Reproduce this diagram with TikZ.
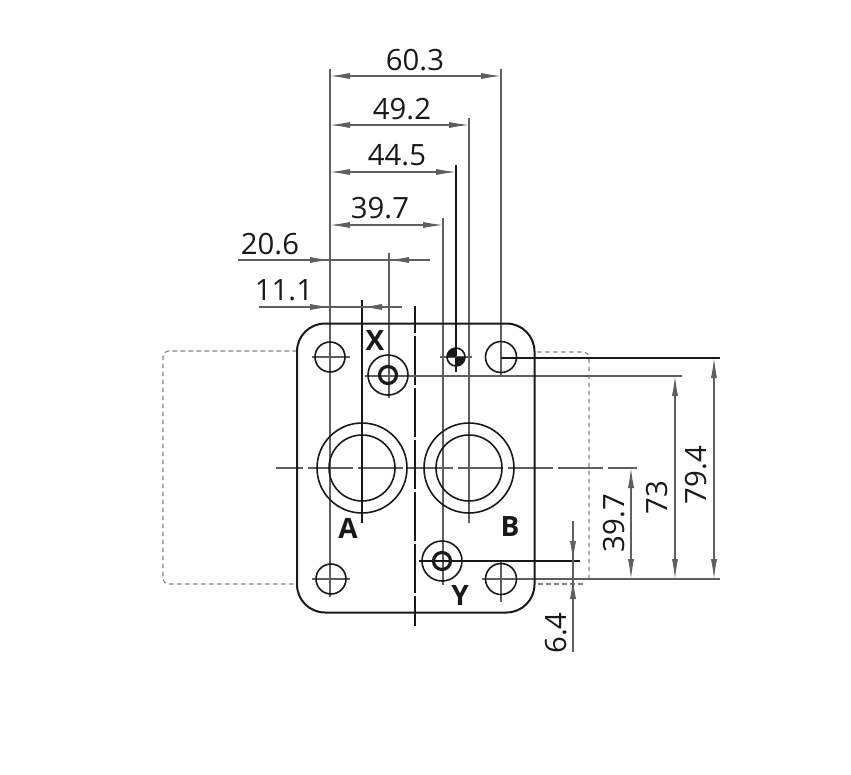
\documentclass[tikz,border=0pt]{standalone}
\usepackage{fontspec}
\setmainfont{Open Sans}
\usetikzlibrary{arrows.meta}
\definecolor{inkdark}{RGB}{25,25,25}
\definecolor{inkthin}{RGB}{95,95,95}
\definecolor{inkdash}{RGB}{130,130,130}
\tikzset{
    plate/.style={draw=inkdark,line width=1.5pt},
    thinline/.style={draw=inkthin,line width=0.8pt},
    hiddenline/.style={draw=inkdash,line width=0.8pt,dash pattern=on 3.5pt off 2.5pt},
    dimline/.style={thinline,{Latex[length=15pt,width=4.6pt]}-{Latex[length=15pt,width=4.6pt]}},
    dimtip/.style={thinline,-{Latex[length=15pt,width=4.6pt]}},
    dimtext/.style={font=\fontsize{22}{22}\selectfont,text=inkdark,inner sep=0pt},
    porttext/.style={font=\fontsize{21}{21}\selectfont\bfseries,text=inkdark,inner sep=0pt}
}
\begin{document}
\begin{tikzpicture}[x=0.75pt,y=-0.75pt]
    \useasboundingbox (0,0) rectangle (851,775);

    % Hidden outline behind the plate
    \draw[hiddenline,rounded corners=4pt] (297,351) -- (163,351) -- (163,584) -- (297,584);
    \draw[hiddenline,rounded corners=4pt] (537,352) -- (589,352) -- (589,578);
    \draw[hiddenline,rounded corners=4pt] (538,584) -- (585,584);

    % Centre lines
    \draw[thinline,dash pattern=on 33.75pt off 3.75pt,dash phase=13.5pt] (276,468) -- (637,468);
    \draw[draw=inkdark,line width=0.8pt,dash pattern=on 36.75pt off 2.25pt,dash phase=16.5pt] (415,306) -- (415,626);

    % Extension lines
    \draw[thinline] (330,69) -- (330,597);
    \draw[thinline] (501,69) -- (501,377);
    \draw[thinline] (469,118) -- (469,523);
    \draw[draw=inkdark,line width=0.8pt] (456,165) -- (456,372);
    \draw[thinline] (443,218) -- (443,585);
    \draw[thinline] (389,253) -- (389,398);
    \draw[draw=inkdark,line width=0.8pt] (362,300) -- (362,523);
    \draw[thinline] (501,562) -- (501,602);
    \draw[draw=inkdark,line width=0.8pt] (501,358) -- (720,358);
    \draw[thinline] (365,376) -- (682,376);
    \draw[thinline] (482,579) -- (720,579);
    \draw[draw=inkdark,line width=0.8pt] (419,561) -- (580,561);
    \draw[thinline] (312,357) -- (350,357);
    \draw[thinline] (440,357) -- (472,357);
    \draw[thinline] (312,579) -- (350,579);

    % Plate
    \draw[plate,rounded corners=21pt] (297,323.5) rectangle (534.5,612.5);

    % Ports and holes
    \draw[plate,line width=1.2pt] (330,357) circle (15);
    \draw[plate,line width=1.2pt] (501,357) circle (15.5);
    \draw[plate,line width=1.2pt] (331,579) circle (15);
    \draw[plate,line width=1.2pt] (501,579) circle (15.5);
    \draw[plate,line width=1.2pt] (362,468) circle (45);
    \draw[plate,line width=1.2pt] (362,468) circle (33);
    \draw[plate,line width=1.2pt] (469,468) circle (45);
    \draw[plate,line width=1.2pt] (469,468) circle (33);
    \draw[plate,line width=1.2pt] (388,375) circle (20);
    \draw[plate,line width=2.4pt] (388,375) circle (8.5);
    \draw[plate,line width=1.2pt] (442,561) circle (20);
    \draw[plate,line width=2.4pt] (442,561) circle (8.5);
    \fill[inkdark] (456,357) -- (447,357) arc (180:270:9) -- cycle;
    \fill[inkdark] (456,357) -- (465,357) arc (0:90:9) -- cycle;
    \draw[plate,line width=1.2pt] (456,357) circle (9);

    % Horizontal dimensions
    \draw[dimline] (330,76) -- (501,76);
    \node[dimtext] (w603) at (415,60) {60.3};
    \draw[dimline] (330,125) -- (469,125);
    \node[dimtext] (w492) at (402,109) {49.2};
    \draw[dimline] (330,172) -- (456,172);
    \node[dimtext] (w445) at (397,155) {44.5};
    \draw[dimline] (330,225) -- (443,225);
    \node[dimtext] (w397) at (380,208) {39.7};

    \draw[thinline] (238,260) -- (430,260);
    \draw[dimtip] (305,260) -- (330,260);
    \draw[dimtip] (412,260) -- (389,260);
    \node[dimtext] (w206) at (270,244) {20.6};

    \draw[thinline] (259,307) -- (402,307);
    \draw[dimtip] (305,307) -- (330,307);
    \draw[dimtip] (385,307) -- (362,307);
    \node[dimtext] (w111) at (284,290) {11.1};

    % Vertical dimensions
    \draw[dimline] (714,358) -- (714,579);
    \node[dimtext,rotate=90] (h794) at (696,475) {79.4};
    \draw[dimline] (675,376) -- (675,579);
    \node[dimtext,rotate=90] (h73) at (657,498) {73};
    \draw[dimline] (631,468) -- (631,579);
    \node[dimtext,rotate=90] (h397) at (614,523) {39.7};

    \draw[thinline] (573,521) -- (573,652);
    \draw[dimtip] (573,538) -- (573,561);
    \draw[dimtip] (573,602) -- (573,579);
    \node[dimtext,rotate=90] (h64) at (556,633) {6.4};

    % Port letters
    \node[porttext] (portx) at (375,341) {X};
    \node[porttext] (porta) at (348,528) {A};
    \node[porttext] (portb) at (510,527) {B};
    \node[porttext] (porty) at (460,596) {Y};
\end{tikzpicture}
\end{document}
